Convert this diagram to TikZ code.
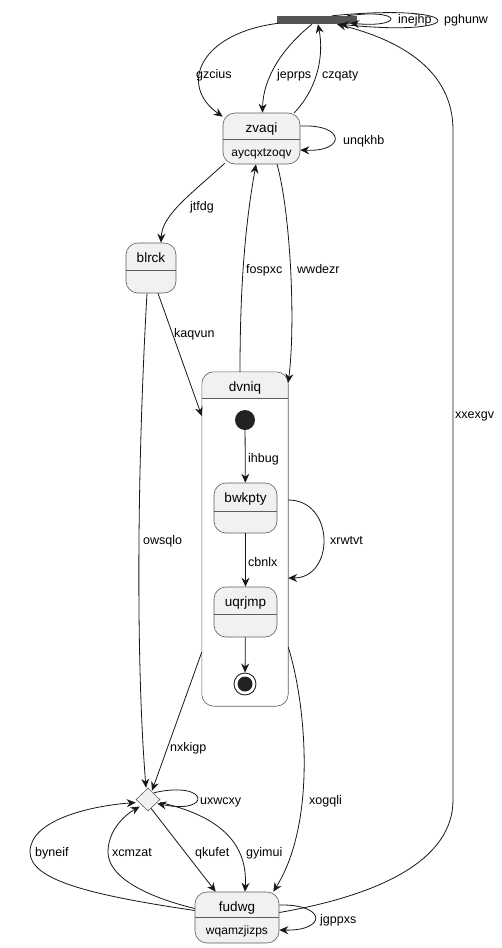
\documentclass[tikz,border=0pt]{standalone}
\usepackage{fontspec}
\setmainfont{Liberation Sans}
\usetikzlibrary{arrows.meta,calc,shapes.geometric}
\definecolor{stfill}{HTML}{F1F1F1}
\definecolor{stline}{HTML}{5E5E5E}
\definecolor{edgec}{HTML}{181818}
\definecolor{barc}{HTML}{555555}
\definecolor{dotc}{HTML}{222222}
\begin{document}
\begin{tikzpicture}[x=1pt,y=-1pt,
  st/.style={draw=stline,fill=stfill,line width=0.6pt,rounded corners=12pt,inner sep=0pt},
  divl/.style={draw=stline,line width=0.6pt},
  ttl/.style={font=\fontsize{13.5}{16}\selectfont,anchor=base,inner sep=0pt},
  attr/.style={font=\fontsize{12}{14}\selectfont,anchor=base,inner sep=0pt},
  lbl/.style={font=\fontsize{12.5}{14}\selectfont,anchor=base west,inner sep=0pt},
  tr/.style={draw=edgec,line width=0.8pt,-{Stealth[length=9pt,width=8pt,inset=3pt]}},
]
\useasboundingbox (0,0) rectangle (501,948);
\fill[white] (0,0) rectangle (501,948);

% fork bar
\node[fill=barc,minimum width=80pt,minimum height=8pt,inner sep=0pt] (bar) at (317,20) {};

% zvaqi
\node[st,minimum width=77pt,minimum height=51pt] (zvaqi) at (261.5,138.5) {};
\draw[divl] ($(zvaqi.north west)+(0,27)$) -- ($(zvaqi.north east)+(0,27)$);
\node[ttl] (zvaqit) at ($(zvaqi.north)+(0,20)$) {zvaqi};
\node[attr] (zvaqia) at ($(zvaqi.north)+(0,44)$) {aycqxtzoqv};

% blrck
\node[st,minimum width=50pt,minimum height=50pt] (blrck) at (151,268) {};
\draw[divl] ($(blrck.north west)+(0,28)$) -- ($(blrck.north east)+(0,28)$);
\node[ttl] (blrckt) at ($(blrck.north)+(0,20)$) {blrck};

% composite dvniq
\node[minimum width=86pt,minimum height=334pt,inner sep=0pt] (dvniq) at (245,539) {};
\begin{scope}
\clip[rounded corners=12pt] (dvniq.north west) rectangle (dvniq.south east);
\fill[white] (dvniq.north west) rectangle (dvniq.south east);
\fill[stfill] (dvniq.north west) rectangle ($(dvniq.north east)+(0,26)$);
\end{scope}
\draw[stline,line width=0.6pt,rounded corners=12pt] (dvniq.north west) rectangle (dvniq.south east);
\draw[divl] ($(dvniq.north west)+(0,26)$) -- ($(dvniq.north east)+(0,26)$);
\node[ttl] (dvniqt) at ($(dvniq.north)+(0,20)$) {dvniq};

% inner states
\node[circle,fill=dotc,minimum size=20pt,inner sep=0pt] (init) at (245,420) {};
\node[st,minimum width=63pt,minimum height=50pt] (bwkpty) at (245.5,508) {};
\draw[divl] ($(bwkpty.north west)+(0,29)$) -- ($(bwkpty.north east)+(0,29)$);
\node[ttl] (bwkptyt) at ($(bwkpty.north)+(0,20)$) {bwkpty};
\node[st,minimum width=63pt,minimum height=50pt] (uqrjmp) at (245.5,612) {};
\draw[divl] ($(uqrjmp.north west)+(0,28)$) -- ($(uqrjmp.north east)+(0,28)$);
\node[ttl] (uqrjmpt) at ($(uqrjmp.north)+(0,20)$) {uqrjmp};
\node[circle,draw=dotc,line width=0.9pt,minimum size=22pt,inner sep=0pt] (final) at (245,684) {};
\fill[dotc] (final.center) circle[radius=7.5pt];

% choice diamond
\node[diamond,draw=stline,fill=stfill,line width=0.6pt,minimum width=24pt,minimum height=23pt,inner sep=0pt] (dia) at (148,799.5) {};

% fudwg
\node[st,minimum width=84pt,minimum height=51pt] (fudwg) at (237,917.5) {};
\draw[divl] ($(fudwg.north west)+(0,26)$) -- ($(fudwg.north east)+(0,26)$);
\node[ttl] (fudwgt) at ($(fudwg.north)+(0,20)$) {fudwg};
\node[attr] (fudwga) at ($(fudwg.north)+(0,43)$) {wqamzjizps};

% transitions
\draw[tr] ($(bar.south west)+(2,-1)$) .. controls (200,33) and (178,85) .. ($(zvaqi.north west)+(0,4)$);
\node[lbl] (l1) at (196,78) {gzcius};
\draw[tr] ($(bar.south)+(-5,0)$) .. controls (280,50) and (263,80) .. ($(zvaqi.north)+(1,0)$);
\node[lbl] (l2) at (277,78) {jeprps};
\draw[tr] ($(zvaqi.north east)+(-6,0)$) .. controls (318,88) and (324,55) .. ($(bar.south)+(1,0)$);
\node[lbl] (l3) at (322,78) {czqaty};
\draw[tr] ($(bar.north east)+(-10,0)$) .. controls (403,8) and (405,28) .. ($(bar.south east)+(-7,-1)$);
\node[lbl] (l4) at (398,23) {inejhp};
\draw[tr] ($(bar.north)+(15,0)$) .. controls (470,2) and (472,38) .. ($(bar.south)+(23,0)$);
\node[lbl] (l5) at (444,23) {pghunw};
\draw[tr] ($(zvaqi.east)+(0,-12.5)$) .. controls (346,124) and (346,152) .. ($(zvaqi.east)+(0,11.5)$);
\node[lbl] (l6) at (343,144) {unqkhb};
\draw[tr] ($(zvaqi.south west)+(2,-1)$) .. controls (190,195) and (162,215) .. ($(blrck.north)+(10,0)$);
\node[lbl] (l7) at (190,210) {jtfdg};
\draw[tr] ($(dvniq.north)+(-5,0)$) .. controls (240,280) and (246,220) .. ($(zvaqi.south)+(-5.5,0)$);
\node[lbl] (l8) at (246,273) {fospxc};
\draw[tr] ($(zvaqi.south)+(15.5,0)$) .. controls (290,210) and (296,320) .. ($(dvniq.north east)+(0,11)$);
\node[lbl] (l9) at (297,273) {wwdezr};
\draw[tr] ($(blrck.south)+(7,0)$) -- ($(dvniq.west)+(0,-123)$);
\node[lbl] (l10) at (174,337) {kaqvun};
\draw[tr] ($(blrck.south)+(-4,0)$) .. controls (138,450) and (135,650) .. ($(dia.north)+(-2,0)$);
\node[lbl] (l11) at (143,544) {owsqlo};
\draw[tr] (init) -- (bwkpty);
\node[lbl] (l12) at (248,462) {ihbug};
\draw[tr] (bwkpty) -- (uqrjmp);
\node[lbl] (l13) at (248,566) {cbnlx};
\draw[tr] (uqrjmp) -- (final);
\draw[tr] ($(dvniq.east)+(0,-39)$) .. controls (335,500) and (335,578) .. ($(dvniq.east)+(0,39)$);
\node[lbl] (l14) at (330,544) {xrwtvt};
\draw[tr] ($(dvniq.west)+(0,113)$) -- ($(dia.north)+(4,3)$);
\node[lbl] (l15) at (170,751) {nxkigp};
\draw[tr] ($(dvniq.east)+(0,108)$) .. controls (305,700) and (318,820) .. ($(fudwg.north east)+(-6,0)$);
\node[lbl] (l16) at (309,804) {xogqli};
\draw[tr] ($(dia.north)+(6,5)$) .. controls (210,780) and (212,815) .. ($(dia.east)+(-3,4)$);
\node[lbl] (l17) at (200,804) {uxwcxy};
\draw[tr] ($(dia.south)+(3,-3)$) -- ($(fudwg.north west)+(21,0)$);
\node[lbl] (l18) at (195,856) {qkufet};
\draw[tr] ($(dia.east)+(0,3)$) .. controls (215,815) and (248,840) .. ($(fudwg.north)+(8,0)$);
\node[lbl] (l19) at (246,856) {gyimui};
\draw[tr] ($(fudwg.west)+(0,-9)$) .. controls (140,895) and (108,875) .. (108,852) .. controls (108,830) and (125,815) .. ($(dia.west)+(4,7)$);
\node[lbl] (l20) at (112,856) {xcmzat};
\draw[tr] ($(fudwg.west)+(0,-7)$) .. controls (90,895) and (30,880) .. (30,852) .. controls (30,820) and (90,806) .. ($(dia.west)+(0,3)$);
\node[lbl] (l21) at (35,856) {byneif};
\draw[tr] ($(fudwg.east)+(0,-12.5)$) .. controls (327,904) and (327,931) .. ($(fudwg.east)+(0,12.5)$);
\node[lbl] (l22) at (320,923) {jgppxs};
\draw[tr] ($(fudwg.east)+(0,-5)$) .. controls (380,895) and (453,860) .. (453,800) -- (453,130) .. controls (453,70) and (400,40) .. ($(bar.south)+(20,0)$);
\node[lbl] (l23) at (455,418) {xxexgv};
\end{tikzpicture}
\end{document}
